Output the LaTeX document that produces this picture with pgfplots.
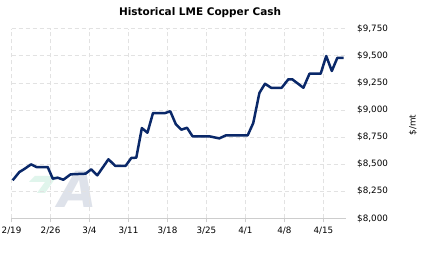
\documentclass[border=0pt]{standalone}
\usepackage{pgfplots}
\pgfplotsset{compat=1.18}
\usepackage{fontspec}
\setmainfont{DejaVu Sans}
\definecolor{navy}{RGB}{10,40,105}
\definecolor{gridc}{RGB}{226,226,226}
\definecolor{axc}{RGB}{205,205,205}
\definecolor{logog}{RGB}{222,226,234}
\definecolor{logom}{RGB}{224,245,236}
\begin{document}
\begin{tikzpicture}[x=1bp,y=1bp]
\useasboundingbox (0,0) rectangle (423,257);
\fill[white] (0,0) rectangle (423,257);
% watermark
\fill[logom] (29,75) -- (35,81) -- (57,81) -- (45,64) -- (37,64) -- (45,75) -- cycle;
\node[text=logog, font=\fontsize{50}{50}\selectfont\bfseries\itshape, inner sep=0pt] at (78,68) {A};
\begin{axis}[
  at={(20.7,35.7)}, anchor=south west,
  scale only axis, width=334.2bp, height=189.6bp,
  xmin=0, xmax=60, ymin=8000, ymax=9750,
  axis x line*=bottom, axis y line*=right,
  x axis line style={axc, line width=0.8bp, -},
  y axis line style={draw=none, -},
  xtick={0,7,14,21,28,35,42,49,56},
  xticklabels={2/19,2/26,3/4,3/11,3/18,3/25,4/1,4/8,4/15},
  ytick={8000,8250,8500,8750,9000,9250,9500,9750},
  yticklabels={{\$8,000},{\$8,250},{\$8,500},{\$8,750},{\$9,000},{\$9,250},{\$9,500},{\$9,750}},
  grid=major,
  major grid style={gridc, dash pattern=on 4bp off 3bp, line width=0.7bp},
  tick align=outside, major tick length=4bp,
  xtick style={axc, line width=0.8bp},
  ytick style={draw=none},
  tick label style={font=\fontsize{8.8}{10}\selectfont, text=black},
  xticklabel style={yshift=-1bp},
  yticklabel style={anchor=west, xshift=4bp},
  /pgf/number format/assume math mode=true,
  clip=false,
]
\addplot[navy, line width=2.5bp, line join=round] coordinates {
(0.2,8351) (1.4,8427) (2.3,8455) (3.5,8498) (4.5,8473) (6.5,8473)
(7.4,8366) (8.3,8375) (9.3,8356) (10.6,8406) (13.3,8412) (14.3,8452)
(15.4,8397) (17.4,8545) (18.6,8485) (20.5,8485) (21.5,8557) (22.4,8560)
(23.4,8833) (24.4,8790) (25.4,8972) (27.6,8972) (28.5,8988) (29.5,8868)
(30.5,8818) (31.5,8836) (32.5,8757) (35.5,8757) (37.3,8738) (38.5,8766)
(42.4,8766) (43.4,8880) (44.5,9157) (45.5,9242) (46.6,9205) (48.5,9205)
(49.7,9283) (50.4,9283) (52.4,9205) (53.5,9335) (55.5,9335) (56.5,9498)
(57.5,9360) (58.5,9482) (59.6,9482)
};
\end{axis}
\node[font=\fontsize{10.5}{12}\selectfont\bfseries] at (200,244) {Historical LME Copper Cash};
\node[rotate=90, font=\fontsize{8.8}{10}\selectfont] at (413,132) {\$/mt};
\end{tikzpicture}
\end{document}
